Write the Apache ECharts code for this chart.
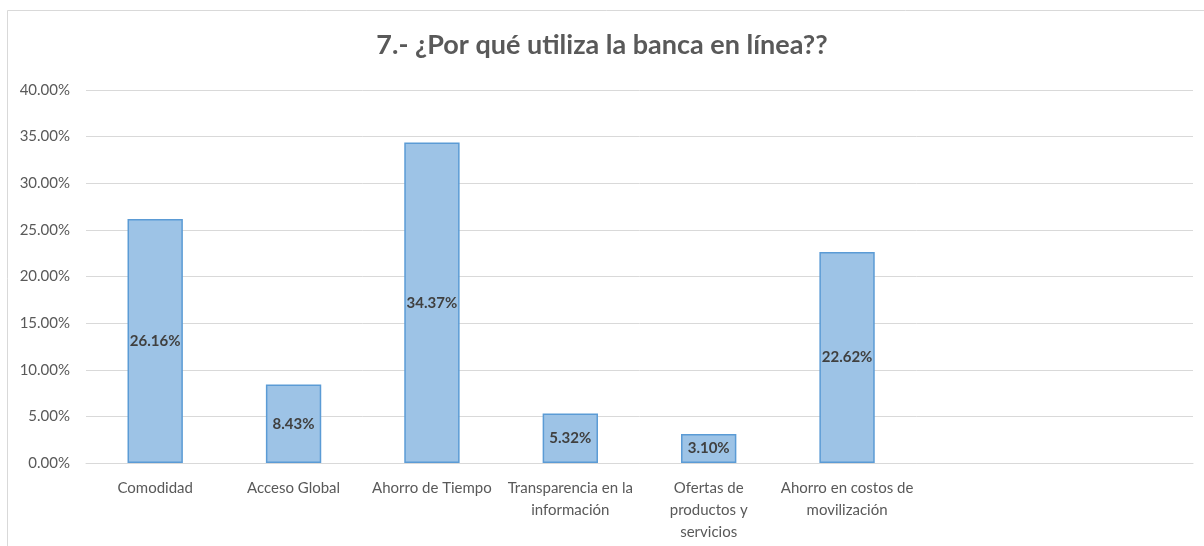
<!DOCTYPE html>
<html>
<head>
<meta charset="utf-8">
<script src="https://cdn.jsdelivr.net/npm/echarts@6/dist/echarts.min.js"></script>
<style>
html,body{margin:0;padding:0;background:#fff;}
#c{width:1204px;height:546px;}
</style>
</head>
<body>
<div id="c"></div>
<script>
const title = '7.- ¿Por qué utiliza la banca en línea??';
const categories = ['Comodidad', 'Acceso Global', 'Ahorro de Tiempo', 'Transparencia en la\ninformación', 'Ofertas de\nproductos y\nservicios', 'Ahorro en costos de\nmovilización', '', ''];
const values = [26.16, 8.43, 34.37, 5.32, 3.10, 22.62, null, null];
const yTicks = { min: 0, max: 40, interval: 5 };

const chart = echarts.init(document.getElementById('c'));
const font = 'Lato, "Open Sans", sans-serif';
chart.setOption({
  backgroundColor: '#fff',
  animation: false,
  graphic: [{
    type: 'rect', shape: { x: 7.5, y: 10.5, width: 1210, height: 560 },
    style: { fill: 'none', stroke: '#d9d9d9', lineWidth: 1 }, silent: true, z: -1
  }],
  title: {
    text: title, left: 'center', top: 27,
    textStyle: { fontFamily: font, fontSize: 27, fontWeight: 'bold', color: '#595959' }
  },
  grid: { left: 86, right: 11, top: 90, bottom: 83, containLabel: false },
  xAxis: {
    type: 'category', data: categories,
    axisLine: { lineStyle: { color: '#d9d9d9', width: 1 } },
    axisTick: { show: false },
    axisLabel: { interval: 0, color: '#595959', fontFamily: font, fontSize: 15, lineHeight: 22, margin: 14 }
  },
  yAxis: {
    type: 'value', min: yTicks.min, max: yTicks.max, interval: yTicks.interval,
    axisLine: { show: false }, axisTick: { show: false },
    splitLine: { lineStyle: { color: '#d9d9d9', width: 1 } },
    axisLabel: { color: '#595959', fontFamily: font, fontSize: 15, margin: 16,
      formatter: v => v.toFixed(2) + '%' }
  },
  series: [{
    type: 'bar', data: values, barWidth: '40%',
    itemStyle: { color: '#9dc3e6', borderColor: '#5b9bd5', borderWidth: 1.5 },
    label: { show: true, position: 'inside', color: '#404040', fontFamily: font,
      fontSize: 15, fontWeight: 'bold', formatter: p => p.value.toFixed(2) + '%' }
  }]
});
</script>
</body>
</html>
